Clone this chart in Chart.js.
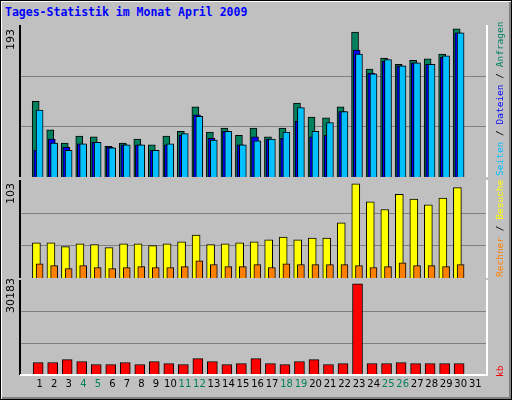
<!DOCTYPE html>
<html><head><meta charset="utf-8">
<script src="https://cdn.jsdelivr.net/npm/chart.js@4/dist/chart.umd.min.js"></script>
<style>
html,body{margin:0;padding:0;}
body{width:512px;height:400px;background:#c0c0c0;position:relative;overflow:hidden;font-family:"DejaVu Sans",sans-serif;}
#outer{position:absolute;left:0;top:0;width:510px;height:398px;border:1px solid #000;box-shadow:inset 1px 1px 0 #fff,inset -2px -2px 0 #808080;}
canvas{position:absolute;left:0;}
.t{position:absolute;white-space:nowrap;}
.rot{transform-origin:0 0;transform:rotate(-90deg);}
</style></head><body>
<div id="outer"></div>
<div class="t" style="left:5px;top:5px;font:bold 11.5px 'DejaVu Sans Mono',monospace;color:#0000ff;">Tages-Statistik im Monat April 2009</div>
<canvas id="c1" width="512" height="152" style="top:25px"></canvas>
<canvas id="c2" width="512" height="98" style="top:180px"></canvas>
<canvas id="c3" width="512" height="120" style="top:280px"></canvas>
<div class="t rot" style="left:4px;top:50px;font-size:11px;">193</div>
<div class="t rot" style="left:4px;top:204px;font-size:11px;">103</div>
<div class="t rot" style="left:4px;top:313px;font-size:11px;">30183</div>
<div class="t rot" style="left:494px;top:176px;font:9.5px 'DejaVu Sans Mono',monospace;"><span style="color:#00c0ff">Seiten</span> / <span style="color:#0000ff">Dateien</span> / <span style="color:#008060">Anfragen</span></div>
<div class="t rot" style="left:494px;top:277px;font:9.5px 'DejaVu Sans Mono',monospace;"><span style="color:#ff8000">Rechner</span> / <span style="color:#ffff00">Besuche</span></div>
<div class="t rot" style="left:494px;top:377px;font:9.5px 'DejaVu Sans Mono',monospace;color:#ff0000;">kb</div>
<script>
const days=[1,2,3,4,5,6,7,8,9,10,11,12,13,14,15,16,17,18,19,20,21,22,23,24,25,26,27,28,29,30,31];
const weekend=[4,5,11,12,18,19,25,26];
const anfragen=[96,60,43,52,51,39,43,48,41,52,58,89,57,62,53,62,51,62,94,76,75,89,184,137,151,143,148,150,156,188,0];
const dateien=[34,48,38,42,44,38,41,41,34,41,53,79,49,58,41,51,48,49,71,51,53,83,161,132,147,141,145,143,152,183,0];
const seiten=[85,43,34,42,44,37,41,41,34,42,55,77,47,58,41,46,48,57,88,58,69,83,156,131,149,141,145,143,154,183,0];
const besuche=[37,37,33,36,35,32,36,36,34,36,38,45,35,36,37,38,40,43,40,42,42,58,99,80,72,88,83,77,84,95,0];
const rechner=[15,13,10,13,11,10,11,12,11,11,12,18,14,12,12,14,11,15,14,14,14,14,13,11,12,16,13,13,12,14,0];
const kb=[3680,3680,4630,4000,3050,3050,3680,3050,4000,3370,3050,4940,4000,3050,3370,4940,3370,3050,4000,4630,3050,3370,28920,3370,3370,3680,3370,3370,3370,3370,0];
const maxes=[193,103,30183];

function pts(arr,off){return arr.map((v,i)=>({x:days[i]+off,y:v}));}
function ds(arr,off,color,w,order){return {data:pts(arr,off),backgroundColor:color,borderColor:'#000',borderWidth:1,barThickness:w,grouped:false,order:order,borderSkipped:'bottom'};}
const framePlugin={id:'frame',beforeDatasetsDraw(ch){
  const c=ch.ctx,y=ch.scales.y,l=20,r=487;
  c.save();c.strokeStyle='#808080';c.lineWidth=1;
  [1,2].forEach(k=>{const py=Math.round(y.getPixelForValue(y.max*k/3))+0.5;c.beginPath();c.moveTo(l,py);c.lineTo(r,py);c.stroke();});
  c.restore();},
 afterDraw(ch){const c=ch.ctx,y=ch.scales.y;c.save();c.strokeStyle='#000';c.lineWidth=2;c.beginPath();c.moveTo(20,y.bottom+1);c.lineTo(20,y.top-1);c.lineTo(487,y.top-1);c.stroke();
 c.strokeStyle='#fff';c.beginPath();c.moveTo(487,y.top);c.lineTo(487,y.bottom+1);c.lineTo(20,y.bottom+1);c.stroke();c.restore();}};
function mk(id,datasets,max,showX,padB){
  return new Chart(document.getElementById(id),{type:'bar',data:{datasets},plugins:[framePlugin],
  options:{responsive:false,animation:false,events:[],
   layout:{padding:{left:25,right:22,top:0,bottom:padB}},
   plugins:{legend:{display:false},tooltip:{enabled:false}},
   scales:{
    x:{type:'linear',min:0.5,max:31.5,display:showX,grid:{display:false,drawTicks:false},border:{display:false},
      afterBuildTicks(s){s.ticks=days.map(d=>({value:d}));},
      ticks:{padding:4,autoSkip:false,maxRotation:0,font:{family:'DejaVu Sans',size:10},
        color:(c)=>weekend.includes(c.tick.value)?'#00805c':'#000',callback:v=>v}},
    y:{min:0,max:max,display:false}}}});
}
mk('c1',[ds(anfragen,-0.28,'#00805c',7,2),ds(dateien,-0.17,'#0000ff',7,1),ds(seiten,-0.01,'#00c0ff',7,0)],maxes[0],false,0);
mk('c2',[ds(besuche,-0.23,'#ffff00',8,1),ds(rechner,-0.01,'#ff8000',7,0)],maxes[1],false,0);
mk('c3',[ds(kb,-0.11,'#ff0000',10,0)],maxes[2],true,6);
</script></body></html>
